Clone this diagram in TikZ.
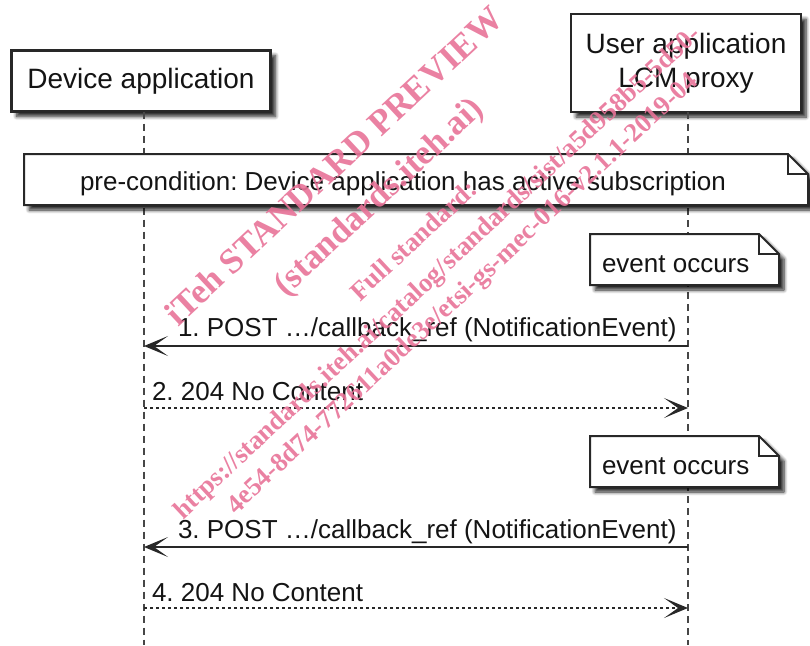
\documentclass[tikz,border=0pt]{standalone}
\usepackage{fontspec}
\setmainfont{Liberation Sans}
\newfontfamily\wmfont{Liberation Serif}
\usetikzlibrary{arrows.meta,shadows.blur,calc}

\definecolor{ink}{RGB}{20,20,20}
\definecolor{edge}{RGB}{40,40,40}
\definecolor{lifecol}{RGB}{70,70,70}
\definecolor{stamp}{RGB}{232,115,152}

% folded-corner note drawn around an empty frame node
\newcommand\notebox[1]{%
  \filldraw[notestyle] (#1.north west) -- ([xshift=-20pt]#1.north east)
    -- ([yshift=-20pt]#1.north east) -- (#1.south east) -- (#1.south west) -- cycle;
  \draw[draw=edge, line width=2pt] ([xshift=-20pt]#1.north east) |- ([yshift=-20pt]#1.north east);}

\begin{document}
\frenchspacing
\begin{tikzpicture}[x=1pt,y=-1pt,
  every node/.style={inner sep=0pt, outer sep=0pt, text=ink},
  softshadow/.style={blur shadow={shadow xshift=5pt, shadow yshift=-5pt,
      shadow blur radius=3.5pt, shadow blur steps=8, shadow opacity=85}},
  participant/.style={draw=edge, line width=2.4pt, fill=white, align=center,
      font=\fontsize{28}{34}\selectfont, softshadow},
  frame/.style={draw=none, fill=none},
  notestyle/.style={draw=edge, line width=2pt, fill=white, line join=miter, softshadow},
  notetext/.style={anchor=base west, font=\fontsize{26}{30}\selectfont},
  lifeline/.style={draw=lifecol, line width=1.5pt, dash pattern=on 7pt off 5pt},
  msg/.style={draw=edge, line width=2pt, -{Stealth[length=24pt, width=20pt, inset=14pt]}},
  reply/.style={msg, dash pattern=on 3pt off 3pt},
  msglabel/.style={anchor=base west, font=\fontsize{26}{30}\selectfont},
  stampbig/.style={anchor=base west, text=stamp, opacity=0.9, rotate=43,
      font=\wmfont\bfseries\fontsize{35.5}{40}\selectfont},
  stampsmall/.style={stampbig, font=\wmfont\bfseries\fontsize{26.5}{30}\selectfont},
]
\useasboundingbox (0,0) rectangle (810,645);

% participants
\node[participant, minimum width=259pt, minimum height=61pt] (dev) at (141,81) {Device application};
\node[participant, minimum width=230pt, minimum height=98pt] (usr) at (686,63) {User application\\LCM proxy};

% lifelines
\coordinate (devx) at (144,0);
\coordinate (usrx) at (688,0);
\coordinate (devend) at (144,645);
\coordinate (usrend) at (688,645);
\draw[lifeline] (devx |- dev.south) -- (devend);
\draw[lifeline] (usrx |- usr.south) -- (usrend);

% notes
\node[frame, minimum width=784pt, minimum height=51pt] (pre) at (416,179.5) {};
\notebox{pre}
\node[notetext] (pretext) at (80,190) {pre-condition: Device application has active subscription};

\node[frame, minimum width=189pt, minimum height=51pt] (ev1) at (684.5,259.5) {};
\notebox{ev1}
\node[notetext] (ev1text) at (602,272) {event occurs};

\node[frame, minimum width=189pt, minimum height=51pt] (ev2) at (684.5,461.5) {};
\notebox{ev2}
\node[notetext] (ev2text) at (602,474) {event occurs};

% message end points on the lifelines
\path (devx |- 0,346) coordinate (m1d) (usrx |- 0,346) coordinate (m1u)
      (devx |- 0,408) coordinate (m2d) (usrx |- 0,408) coordinate (m2u)
      (devx |- 0,547) coordinate (m3d) (usrx |- 0,547) coordinate (m3u)
      (devx |- 0,608) coordinate (m4d) (usrx |- 0,608) coordinate (m4u);

\draw[msg] (m1u) -- (m1d);
\node[msglabel] (m1) at (178,336) {1. POST …/callback\_ref (NotificationEvent)};
\draw[reply] (m2d) -- (m2u);
\node[msglabel] (m2) at (152,400) {2. 204 No Content};
\draw[msg] (m3u) -- (m3d);
\node[msglabel] (m3) at (178,538) {3. POST …/callback\_ref (NotificationEvent)};
\draw[reply] (m4d) -- (m4u);
\node[msglabel] (m4) at (152,601) {4. 204 No Content};

% preview stamp
\node[stampbig] (s1) at (178,327) {iTeh STANDARD PREVIEW};
\node[stampbig, font=\wmfont\bfseries\fontsize{35}{40}\selectfont] (s2) at (286,297) {(standards.iteh.ai)};
\node[stampsmall] (s3) at (360,302) {Full standard:};
\node[stampsmall] (s4) at (183,520) {https://standards.iteh.ai/catalog/standards/sist/a5d958b5-5d50-};
\node[stampsmall] (s5) at (236,515) {4e54-8d74-772611a0de3e/etsi-gs-mec-016-v2.1.1-2019-04};
\end{tikzpicture}
\end{document}
